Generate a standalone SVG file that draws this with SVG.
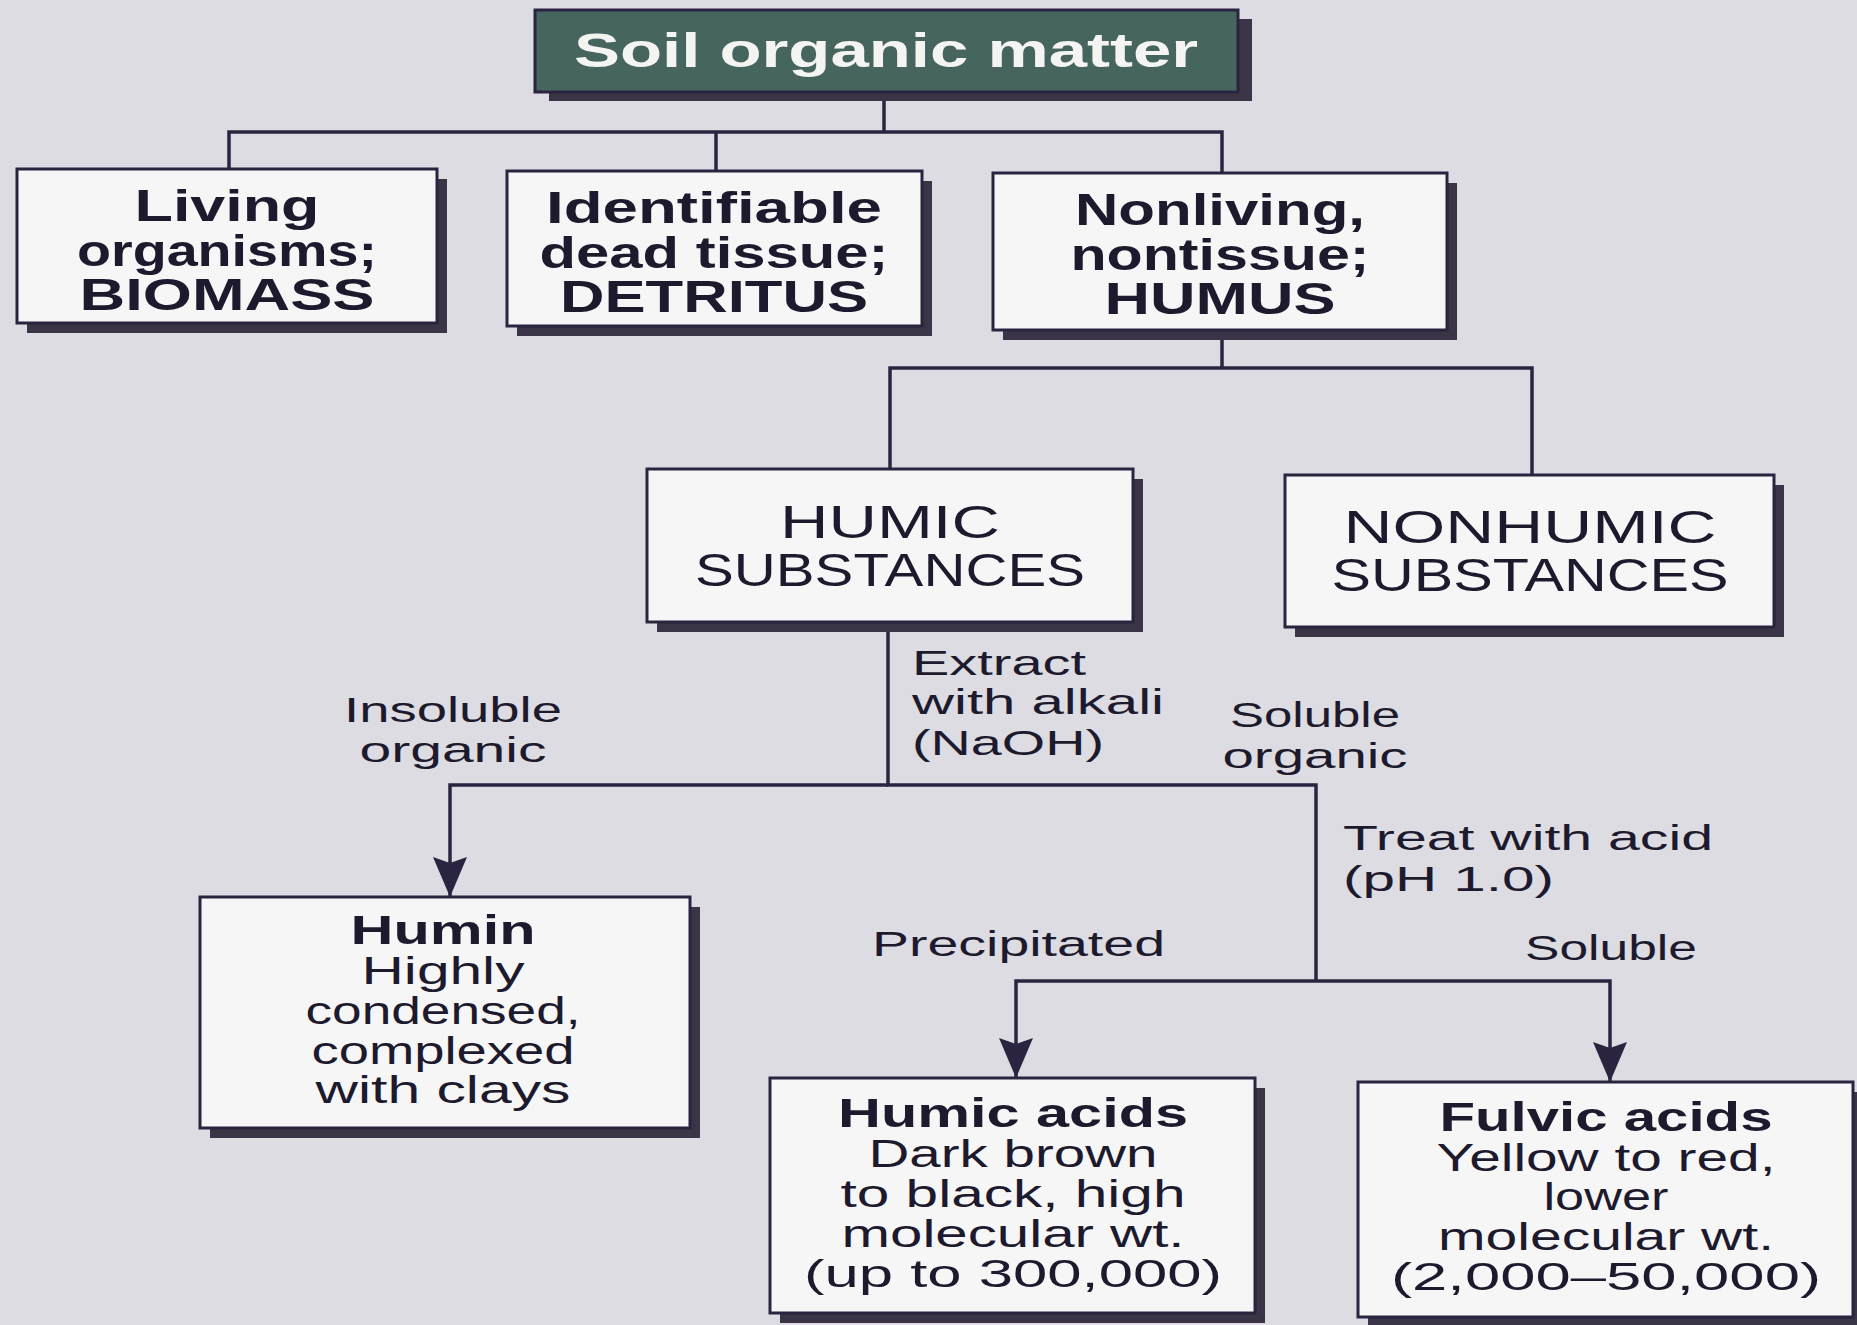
<svg xmlns="http://www.w3.org/2000/svg" width="1857" height="1325" viewBox="0 0 1857 1325">
<defs>
<style>
.bg{fill:#dcdce2}
.box{fill:#f6f6f7;stroke:#2a2440;stroke-width:3}
.top{fill:#46655f;stroke:#2a2440;stroke-width:3}
.sh{fill:#3b3447}
.ln{fill:none;stroke:#2a2440;stroke-width:3.5;stroke-linejoin:miter}
text{font-family:"Liberation Sans",Arial,sans-serif;fill:#1e1a2e;text-anchor:middle}
.t0{font-size:48px;font-weight:bold;fill:#f4f4f2}
.b1{font-size:45px;font-weight:bold}
.r1{font-size:47px}
.bt{font-size:41px;font-weight:bold}
.rt{font-size:38px}
.lb{font-size:35px}
.st{text-anchor:start}
</style>
<marker id="ah" markerUnits="userSpaceOnUse" markerWidth="40" markerHeight="34" viewBox="0 0 40 34" refX="40" refY="17" orient="auto">
<path d="M0,0 L40,17 L0,34 L6,17 z" fill="#2a2440"/>
</marker>
</defs>
<rect class="bg" x="0" y="0" width="1857" height="1325"/>

<g id="connectors">
<path class="ln" d="M884,92 V132"/>
<path class="ln" d="M229,169 V132 H1222 V173"/>
<path class="ln" d="M716,132 V171"/>
<path class="ln" d="M1222,330 V368"/>
<path class="ln" d="M890,469 V368 H1532 V475"/>
<path class="ln" d="M888,622 V785 H1316 V981"/>
<path class="ln" d="M888,785 H450 V897" marker-end="url(#ah)"/>
<path class="ln" d="M1316,981 H1016 V1078" marker-end="url(#ah)"/>
<path class="ln" d="M1316,981 H1610 V1082" marker-end="url(#ah)"/>
</g>

<g id="soil-organic-matter">
<rect class="sh" x="549" y="19" width="703" height="82"/>
<rect class="top" x="535" y="10" width="703" height="82"/>
<text class="t0" x="886" y="67" textLength="624" lengthAdjust="spacingAndGlyphs">Soil organic matter</text>
</g>

<g id="biomass">
<rect class="sh" x="27" y="179" width="420" height="154"/>
<rect class="box" x="17" y="169" width="420" height="154"/>
<text class="b1" x="227" y="221" textLength="185" lengthAdjust="spacingAndGlyphs">Living</text>
<text class="b1" x="227" y="266" textLength="300" lengthAdjust="spacingAndGlyphs">organisms;</text>
<text class="b1" x="227" y="310" textLength="295" lengthAdjust="spacingAndGlyphs">BIOMASS</text>
</g>

<g id="detritus">
<rect class="sh" x="517" y="181" width="415" height="155"/>
<rect class="box" x="507" y="171" width="415" height="155"/>
<text class="b1" x="714" y="223" textLength="336" lengthAdjust="spacingAndGlyphs">Identifiable</text>
<text class="b1" x="714" y="268" textLength="349" lengthAdjust="spacingAndGlyphs">dead tissue;</text>
<text class="b1" x="714" y="312" textLength="308" lengthAdjust="spacingAndGlyphs">DETRITUS</text>
</g>

<g id="humus">
<rect class="sh" x="1003" y="183" width="454" height="157"/>
<rect class="box" x="993" y="173" width="454" height="157"/>
<text class="b1" x="1220" y="225" textLength="290" lengthAdjust="spacingAndGlyphs">Nonliving,</text>
<text class="b1" x="1220" y="270" textLength="299" lengthAdjust="spacingAndGlyphs">nontissue;</text>
<text class="b1" x="1220" y="314" textLength="231" lengthAdjust="spacingAndGlyphs">HUMUS</text>
</g>

<g id="humic-substances">
<rect class="sh" x="657" y="479" width="486" height="153"/>
<rect class="box" x="647" y="469" width="486" height="153"/>
<text class="r1" x="890" y="538" textLength="220" lengthAdjust="spacingAndGlyphs">HUMIC</text>
<text class="r1" x="890" y="586" textLength="390" lengthAdjust="spacingAndGlyphs">SUBSTANCES</text>
</g>

<g id="nonhumic-substances">
<rect class="sh" x="1295" y="485" width="489" height="152"/>
<rect class="box" x="1285" y="475" width="489" height="152"/>
<text class="r1" x="1530" y="543" textLength="373" lengthAdjust="spacingAndGlyphs">NONHUMIC</text>
<text class="r1" x="1530" y="591" textLength="397" lengthAdjust="spacingAndGlyphs">SUBSTANCES</text>
</g>

<g id="labels">
<text class="lb" x="453" y="722" textLength="218" lengthAdjust="spacingAndGlyphs">Insoluble</text>
<text class="lb" x="453" y="762" textLength="187" lengthAdjust="spacingAndGlyphs">organic</text>
<text class="lb st" x="912" y="675" textLength="174" lengthAdjust="spacingAndGlyphs">Extract</text>
<text class="lb st" x="912" y="714" textLength="252" lengthAdjust="spacingAndGlyphs">with alkali</text>
<text class="lb st" x="912" y="755" textLength="192" lengthAdjust="spacingAndGlyphs">(NaOH)</text>
<text class="lb" x="1315" y="727" textLength="170" lengthAdjust="spacingAndGlyphs">Soluble</text>
<text class="lb" x="1315" y="768" textLength="185" lengthAdjust="spacingAndGlyphs">organic</text>
<text class="lb st" x="1343" y="850" textLength="370" lengthAdjust="spacingAndGlyphs">Treat with acid</text>
<text class="lb st" x="1343" y="891" textLength="211" lengthAdjust="spacingAndGlyphs">(pH 1.0)</text>
<text class="lb st" x="872" y="956" textLength="293" lengthAdjust="spacingAndGlyphs">Precipitated</text>
<text class="lb" x="1611" y="960" textLength="172" lengthAdjust="spacingAndGlyphs">Soluble</text>
</g>

<g id="humin">
<rect class="sh" x="210" y="907" width="490" height="231"/>
<rect class="box" x="200" y="897" width="490" height="231"/>
<text class="bt" x="443" y="944" textLength="185" lengthAdjust="spacingAndGlyphs">Humin</text>
<text class="rt" x="443" y="984" textLength="163" lengthAdjust="spacingAndGlyphs">Highly</text>
<text class="rt" x="443" y="1024" textLength="275" lengthAdjust="spacingAndGlyphs">condensed,</text>
<text class="rt" x="443" y="1064" textLength="263" lengthAdjust="spacingAndGlyphs">complexed</text>
<text class="rt" x="443" y="1103" textLength="255" lengthAdjust="spacingAndGlyphs">with clays</text>
</g>

<g id="humic-acids">
<rect class="sh" x="780" y="1088" width="485" height="235"/>
<rect class="box" x="770" y="1078" width="485" height="235"/>
<text class="bt" x="1013" y="1127" textLength="350" lengthAdjust="spacingAndGlyphs">Humic acids</text>
<text class="rt" x="1013" y="1167" textLength="289" lengthAdjust="spacingAndGlyphs">Dark brown</text>
<text class="rt" x="1013" y="1207" textLength="345" lengthAdjust="spacingAndGlyphs">to black, high</text>
<text class="rt" x="1013" y="1247" textLength="343" lengthAdjust="spacingAndGlyphs">molecular wt.</text>
<text class="rt" x="1013" y="1287" textLength="418" lengthAdjust="spacingAndGlyphs">(up to 300,000)</text>
</g>

<g id="fulvic-acids">
<rect class="sh" x="1368" y="1092" width="495" height="235"/>
<rect class="box" x="1358" y="1082" width="495" height="235"/>
<text class="bt" x="1606" y="1131" textLength="333" lengthAdjust="spacingAndGlyphs">Fulvic acids</text>
<text class="rt" x="1606" y="1171" textLength="339" lengthAdjust="spacingAndGlyphs">Yellow to red,</text>
<text class="rt" x="1606" y="1210" textLength="125" lengthAdjust="spacingAndGlyphs">lower</text>
<text class="rt" x="1606" y="1250" textLength="336" lengthAdjust="spacingAndGlyphs">molecular wt.</text>
<text class="rt" x="1606" y="1290" textLength="430" lengthAdjust="spacingAndGlyphs">(2,000–50,000)</text>
</g>
</svg>
